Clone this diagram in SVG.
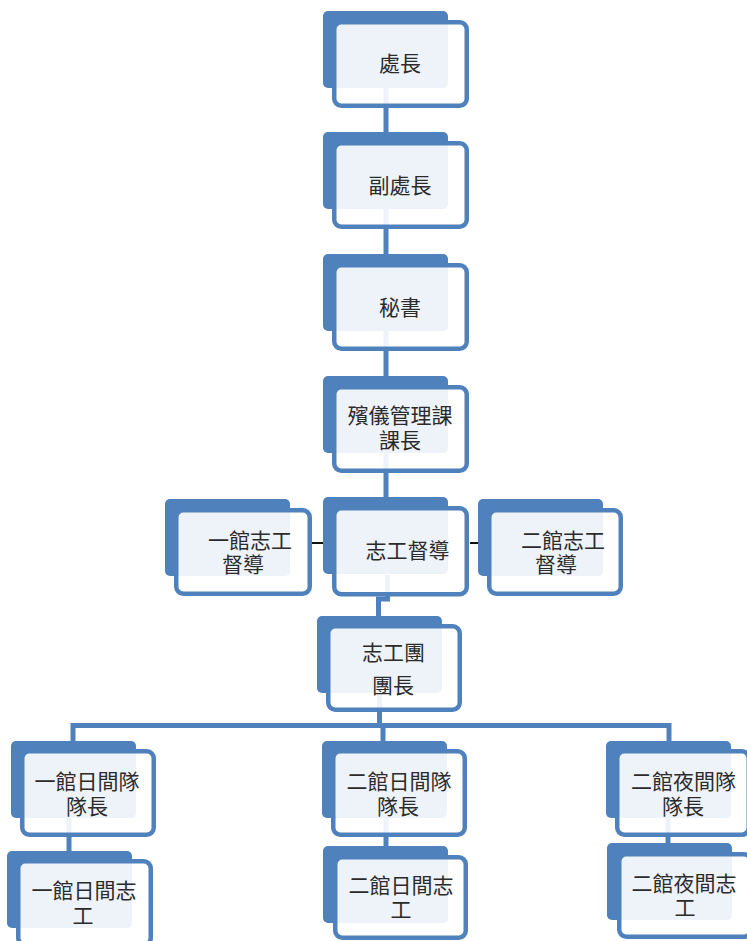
<svg xmlns="http://www.w3.org/2000/svg" width="747" height="941" viewBox="0 0 747 941">
<style>
.bk{fill:#4f81bd;}
.fr{fill:#ffffff;fill-opacity:0.9;stroke:#4f81bd;stroke-width:4.5;}
.t{font-family:"Liberation Sans","Noto Sans CJK TC","Noto Sans CJK SC",sans-serif;font-size:21px;fill:#2b2b2b;text-anchor:middle;dominant-baseline:central;}
.c{fill:none;stroke:#4f81bd;stroke-width:5;}
.d{fill:none;stroke:#111;stroke-width:2;}
</style>
<rect width="747" height="941" fill="#fff"/>
<g id="connectors">
<path class="c" d="M386 88V132M386 209V254M386 331V376M386 453V497"/>
<path class="c" d="M387.5 575V599H378.5V616"/>
<path class="c" d="M379.5 693V725.5M73 741V725.5H669V741M383 725.5V741"/>
<path class="c" d="M69 818V851M386 818V846M668 818V843"/>
<path class="d" d="M311 543H324M470 543H482"/>
</g>
<g id="n1"><rect class="bk" x="323" y="11" width="125" height="77" rx="5"/><rect class="fr" x="334.25" y="22.25" width="132.5" height="83.5" rx="7"/><text class="t" x="400" y="63">處長</text></g>
<g id="n2"><rect class="bk" x="323" y="132" width="125" height="77" rx="5"/><rect class="fr" x="334.25" y="143.25" width="132.5" height="83.5" rx="7"/><text class="t" x="400" y="185">副處長</text></g>
<g id="n3"><rect class="bk" x="323" y="254" width="125" height="77" rx="5"/><rect class="fr" x="334.25" y="265.25" width="132.5" height="83.5" rx="7"/><text class="t" x="400" y="307">秘書</text></g>
<g id="n4"><rect class="bk" x="323" y="376" width="125" height="77" rx="5"/><rect class="fr" x="334.25" y="387.25" width="132.5" height="83.5" rx="7"/><text class="t" x="400" y="415.5">殯儀管理課<tspan x="400" y="439.5">課長</tspan></text></g>
<g id="n5"><rect class="bk" x="323" y="497" width="125" height="77" rx="5"/><rect class="fr" x="334.25" y="508.25" width="132.5" height="86" rx="7"/><text class="t" x="407.5" y="550">志工督導</text></g>
<g id="n6"><rect class="bk" x="165" y="499" width="125" height="77" rx="5"/><rect class="fr" x="176.25" y="510.25" width="133.5" height="83.5" rx="7"/><text class="t" x="250" y="540">一館志工<tspan x="243" y="564">督導</tspan></text></g>
<g id="n7"><rect class="bk" x="478" y="499" width="125" height="77" rx="5"/><rect class="fr" x="489.25" y="510.25" width="131.5" height="83.5" rx="7"/><text class="t" x="563" y="540">二館志工<tspan x="556" y="564">督導</tspan></text></g>
<g id="n8"><rect class="bk" x="317" y="616" width="125" height="77" rx="5"/><rect class="fr" x="328.25" y="626.25" width="131.5" height="83.5" rx="7"/><text class="t" x="393.5" y="652">志工團<tspan x="393" y="685">團長</tspan></text></g>
<g id="n9"><rect class="bk" x="11" y="741" width="125" height="77" rx="5"/><rect class="fr" x="22.25" y="751.25" width="131.5" height="83.5" rx="7"/><text class="t" x="87" y="781.5">一館日間隊<tspan x="87" y="805.5">隊長</tspan></text></g>
<g id="n10"><rect class="bk" x="322" y="741" width="125" height="77" rx="5"/><rect class="fr" x="333.25" y="751.25" width="131.5" height="83.5" rx="7"/><text class="t" x="399" y="781.5">二館日間隊<tspan x="398" y="805.5">隊長</tspan></text></g>
<g id="n11"><rect class="bk" x="606" y="741" width="125" height="77" rx="5"/><rect class="fr" x="617.25" y="751.25" width="131.5" height="83.5" rx="7"/><text class="t" x="683.5" y="781.5">二館夜間隊<tspan x="683" y="805.5">隊長</tspan></text></g>
<g id="n12"><rect class="bk" x="7" y="851" width="125" height="77" rx="5"/><rect class="fr" x="18.25" y="861.25" width="132.5" height="83.5" rx="7"/><text class="t" x="84" y="890.5">一館日間志<tspan x="83" y="914.5">工</tspan></text></g>
<g id="n13"><rect class="bk" x="323" y="846" width="125" height="77" rx="5"/><rect class="fr" x="335.25" y="857.25" width="130.5" height="80.5" rx="7"/><text class="t" x="401" y="885">二館日間志<tspan x="401" y="909">工</tspan></text></g>
<g id="n14"><rect class="bk" x="607" y="843" width="125" height="77" rx="5"/><rect class="fr" x="619.25" y="854.25" width="131.5" height="82.5" rx="7"/><text class="t" x="684" y="883">二館夜間志<tspan x="685" y="907">工</tspan></text></g>
</svg>
